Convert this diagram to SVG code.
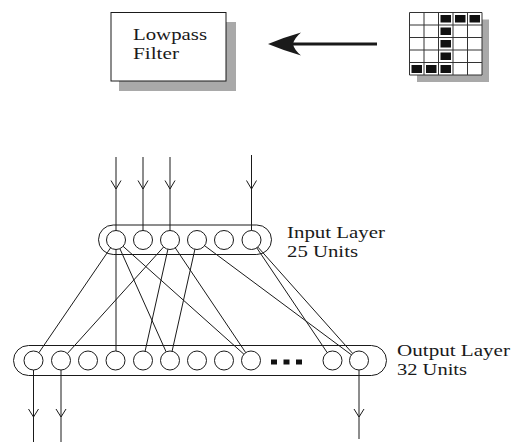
<svg xmlns="http://www.w3.org/2000/svg" width="516" height="443" viewBox="0 0 516 443">
<style>
.ln{stroke:#1a1a1a;stroke-width:1;fill:none}
.nd{stroke:#1a1a1a;stroke-width:1;fill:#fff}
.shadow{fill:#a9a9a9}
.lbl{font-family:"Liberation Serif","Times New Roman",serif;font-size:17px;fill:#1a1a1a}
.cell{fill:#111}
.grid{stroke:#333;stroke-width:1;fill:none}
.dot{fill:#111}
</style>
<rect width="516" height="443" fill="#fff"/>
<g id="lowpass-filter">
<rect class="shadow" x="119" y="22" width="117" height="69"/>
<rect class="nd" x="111" y="12.5" width="115" height="68.5"/>
<text class="lbl" x="133" y="39.5" textLength="74" lengthAdjust="spacingAndGlyphs">Lowpass</text>
<text class="lbl" x="133" y="58.5" textLength="46" lengthAdjust="spacingAndGlyphs">Filter</text>
</g>
<g id="input-image">
<rect class="shadow" x="417" y="19.5" width="72" height="62.5"/>
<rect x="409.5" y="12.5" width="72.5" height="62.5" fill="#fff"/>
<path class="grid" d="M409.5,12.5H482V75H409.5Z M424,12.5V75 M438.5,12.5V75 M453,12.5V75 M467.5,12.5V75 M409.5,25H482 M409.5,37.5H482 M409.5,50H482 M409.5,62.5H482"/>
<rect class="cell" x="440.5" y="15" width="10.5" height="7.5"/>
<rect class="cell" x="455" y="15" width="10.5" height="7.5"/>
<rect class="cell" x="469.5" y="15" width="10.5" height="7.5"/>
<rect class="cell" x="440.5" y="27.5" width="10.5" height="7.5"/>
<rect class="cell" x="440.5" y="40" width="10.5" height="7.5"/>
<rect class="cell" x="440.5" y="52.5" width="10.5" height="7.5"/>
<rect class="cell" x="411.5" y="65" width="10.5" height="8"/>
<rect class="cell" x="426" y="65" width="10.5" height="8"/>
<rect class="cell" x="440.5" y="65" width="10.5" height="8"/>
</g>
<g id="input-layer">
<rect class="nd" x="98.5" y="225" width="173" height="29.5" rx="14.75"/>
<circle class="nd" cx="116" cy="240" r="9.5"/>
<circle class="nd" cx="143" cy="240" r="9.5"/>
<circle class="nd" cx="170" cy="240" r="9.5"/>
<circle class="nd" cx="197" cy="240" r="9.5"/>
<circle class="nd" cx="224" cy="240" r="9.5"/>
<circle class="nd" cx="251.5" cy="240" r="9.5"/>
<text class="lbl" x="287" y="238" textLength="98" lengthAdjust="spacingAndGlyphs">Input Layer</text>
<text class="lbl" x="287" y="257" textLength="71" lengthAdjust="spacingAndGlyphs">25 Units</text>
</g>
<g id="output-layer">
<rect class="nd" x="13.5" y="345.5" width="373" height="30" rx="15"/>
<circle class="nd" cx="33.5" cy="360.5" r="9.5"/>
<circle class="nd" cx="61" cy="360.5" r="9.5"/>
<circle class="nd" cx="88" cy="360.5" r="9.5"/>
<circle class="nd" cx="115.5" cy="360.5" r="9.5"/>
<circle class="nd" cx="143" cy="360.5" r="9.5"/>
<circle class="nd" cx="170" cy="360.5" r="9.5"/>
<circle class="nd" cx="197" cy="360.5" r="9.5"/>
<circle class="nd" cx="224" cy="360.5" r="9.5"/>
<circle class="nd" cx="251" cy="360.5" r="9.5"/>
<rect class="dot" x="271" y="359.5" width="6" height="5"/>
<rect class="dot" x="283.5" y="359.5" width="6" height="5"/>
<rect class="dot" x="296" y="359.5" width="6" height="5"/>
<circle class="nd" cx="332.5" cy="360.5" r="9.5"/>
<circle class="nd" cx="359" cy="360.5" r="9.5"/>
<text class="lbl" x="397" y="356" textLength="113" lengthAdjust="spacingAndGlyphs">Output Layer</text>
<text class="lbl" x="397" y="375" textLength="70" lengthAdjust="spacingAndGlyphs">32 Units</text>
</g>
<g id="connectors">
<line x1="377" y1="44" x2="292" y2="44" stroke="#1a1a1a" stroke-width="3"/>
<path d="M268,44 Q285,37 301,32.5 Q294,38.5 293,44 Q294,49.5 301,55.5 Q285,51 268,44Z" fill="#1a1a1a"/>
<path class="ln" d="M116,157V230.5 M111,180.5L116,189L121,180.5"/>
<path class="ln" d="M143,157V230.5 M138,180.5L143,189L148,180.5"/>
<path class="ln" d="M170,157V230.5 M165,180.5L170,189L175,180.5"/>
<path class="ln" d="M251.5,155V230.5 M246.5,180.5L251.5,189L256.5,180.5"/>
<line class="ln" x1="110.6" y1="247.8" x2="38.9" y2="352.7"/>
<line class="ln" x1="116" y1="249.5" x2="116" y2="351"/>
<line class="ln" x1="119.9" y1="248.7" x2="166.1" y2="351.8"/>
<line class="ln" x1="123.1" y1="246.3" x2="243.9" y2="354.2"/>
<line class="ln" x1="163.6" y1="247" x2="67.4" y2="353.5"/>
<line class="ln" x1="167.9" y1="249.3" x2="145.1" y2="351.2"/>
<line class="ln" x1="175.3" y1="247.9" x2="245.7" y2="352.6"/>
<line class="ln" x1="194.9" y1="249.3" x2="172.1" y2="351.2"/>
<line class="ln" x1="204.6" y1="245.7" x2="351.4" y2="354.8"/>
<line class="ln" x1="256.8" y1="247.9" x2="327.2" y2="352.6"/>
<line class="ln" x1="257.9" y1="247.1" x2="352.6" y2="353.4"/>
<path class="ln" d="M33.5,370V442 M28.5,409L33.5,417L38.5,409"/>
<path class="ln" d="M61,370V442 M56,409L61,417L66,409"/>
<path class="ln" d="M359,370V439 M354,409L359,417L364,409"/>
</g>
</svg>
